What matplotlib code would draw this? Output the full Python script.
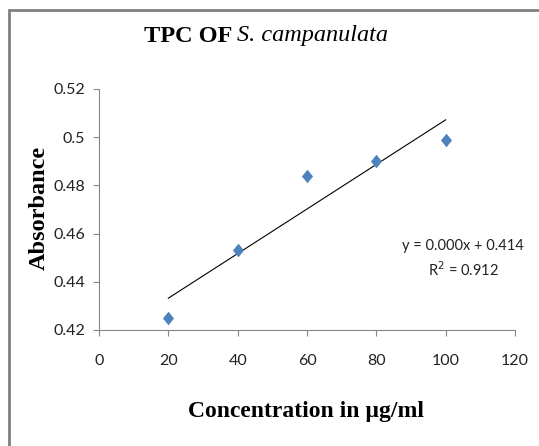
import numpy as np
import matplotlib
matplotlib.use("Agg")
from matplotlib import pyplot as plt
from matplotlib.patches import Rectangle

# concentration (ug/ml) and measured absorbance
conc = [20, 40, 60, 80, 100]
absorbance = [0.425, 0.453, 0.484, 0.490, 0.499]
x_ticks = [0, 20, 40, 60, 80, 100, 120]
y_ticks = [0.42, 0.44, 0.46, 0.48, 0.5, 0.52]
y_tick_labels = ["0.42", "0.44", "0.46", "0.48", "0.5", "0.52"]
eq_label = "y = 0.000x + 0.414"
r2_label = "R$^2$ = 0.912"

tick_font = ["Lato", "DejaVu Sans"]
serif = ["Liberation Serif", "DejaVu Serif"]
axis_grey = "#868686"

fig = plt.figure(figsize=(5.39, 4.46), dpi=100)
ax = fig.add_axes([0.1837, 0.2601, 0.7718, 0.5404])

# chart area frame
fig.add_artist(Rectangle((9 / 539, -0.1), 1.2, 1.1 - 10 / 446,
                         transform=fig.transFigure, fill=False,
                         edgecolor="#808080", linewidth=2))

# tall Excel-like diamond marker
diamond = [(0, 1), (0.82, 0), (0, -1), (-0.82, 0), (0, 1)]
ax.scatter(conc, absorbance, marker=diamond, s=95, color="#4F81BD",
           zorder=3, linewidths=0)

# linear trendline over the measured range
coef = np.polyfit(conc, absorbance, 1)
ends = [conc[0], conc[-1]]
ax.plot(ends, np.polyval(coef, ends), color="black", linewidth=0.8, zorder=2)

ax.set_xlim(0, 120)
ax.set_ylim(0.42, 0.52)
ax.set_xticks(x_ticks)
ax.set_yticks(y_ticks)
ax.set_yticklabels(y_tick_labels)
for side in ["top", "right"]:
    ax.spines[side].set_visible(False)
for side in ["left", "bottom"]:
    ax.spines[side].set_color(axis_grey)
    ax.spines[side].set_linewidth(0.8)
ax.tick_params(axis="both", direction="out", length=4, width=0.8,
               color=axis_grey, labelcolor="#222222", labelsize=11.5)
ax.tick_params(axis="x", pad=13)
ax.tick_params(axis="y", pad=6)
for lab in ax.get_xticklabels() + ax.get_yticklabels():
    lab.set_family(tick_font)

fig.text(463 / 539, 1 - 246 / 446, eq_label, ha="center", va="center",
         fontsize=10.5, family=tick_font, color="#222222")
fig.text(463 / 539, 1 - 270 / 446, r2_label, ha="center", va="center",
         fontsize=10.5, family=tick_font, color="#222222")

fig.text(306 / 539, 1 - 411 / 446, "Concentration in µg/ml", ha="center",
         va="center", fontsize=17, fontweight="bold", family=serif)
fig.text(39 / 539, 1 - 208 / 446, "Absorbance", ha="center", va="center",
         rotation=90, fontsize=17.5, fontweight="bold", family=serif)

# title: bold part followed by italic species name
fig.canvas.draw()
t1 = fig.text(0, 1 - 36 / 446, "TPC OF ", fontsize=17.5, fontweight="bold",
              family=serif, va="center")
t2 = fig.text(0, 1 - 36 / 446, "S. campanulata", fontsize=17.5,
              style="italic", family=serif, va="center")
r = fig.canvas.get_renderer()
w1 = t1.get_window_extent(r).width
w2 = t2.get_window_extent(r).width
start = 266 - (w1 + w2) / 2
t1.set_x(start / 539)
t2.set_x((start + w1) / 539)

fig.savefig("out.png", dpi=100)
